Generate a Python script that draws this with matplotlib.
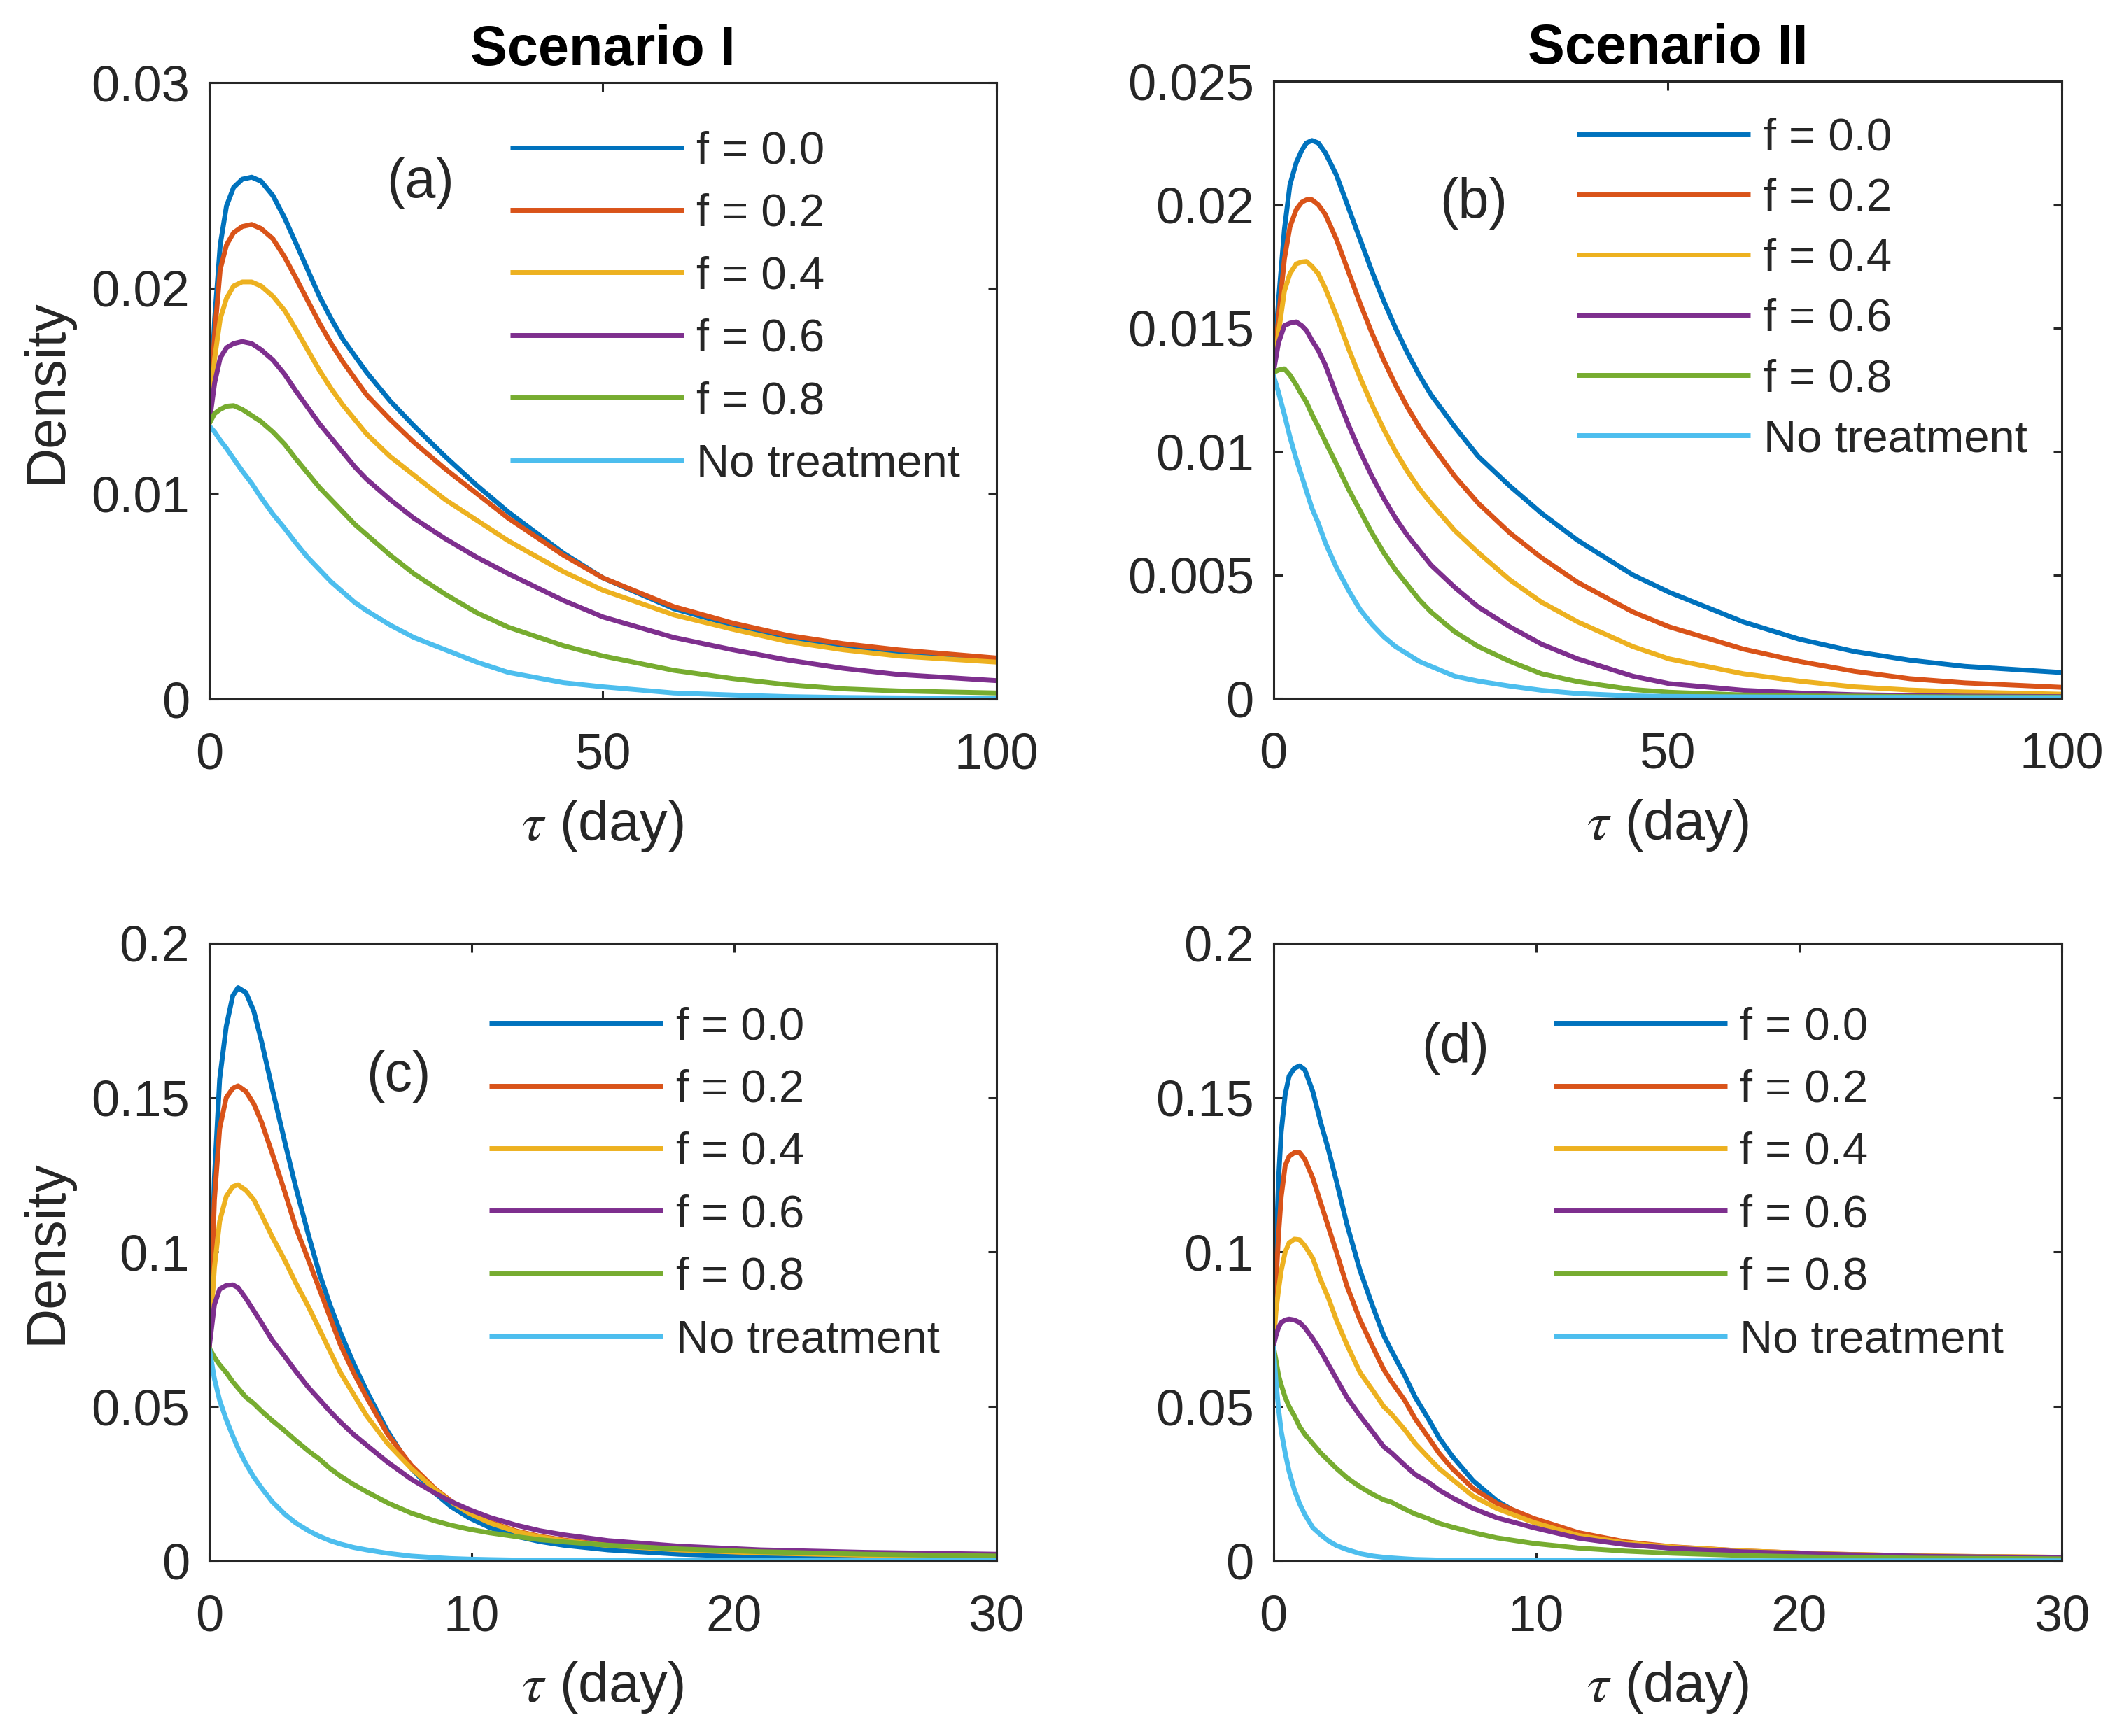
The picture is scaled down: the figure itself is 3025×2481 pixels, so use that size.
import matplotlib
matplotlib.use("Agg")
import matplotlib.pyplot as plt

plt.rcParams["font.family"] = ["Liberation Sans", "DejaVu Sans"]
plt.rcParams["mathtext.fontset"] = "stix"

# MATLAB default line colours, one per curve
colors = ["#0072BD", "#D95319", "#EDB120", "#7E2F8E", "#77AC30", "#4DBEEE"]
labels = ["f = 0.0", "f = 0.2", "f = 0.4", "f = 0.6", "f = 0.8", "No treatment"]

# ---------------- panel (a): Scenario I, long range ----------------
a_x = [0, 0.7, 1.4, 2.2, 3.1, 4.2, 5.4, 6.6, 8.1, 9.6, 11.0, 12.5, 14.0, 15.5, 17.0, 18.5,
       20, 23, 26, 30, 34, 38, 45, 50, 59, 66.5, 73.5, 80.5, 87.5, 100]
a_f00 = [0.0134, 0.0185, 0.0221, 0.0240, 0.0249, 0.0253, 0.0254, 0.0252, 0.0245, 0.0234,
         0.0222, 0.0209, 0.0196, 0.0185, 0.0175, 0.0167, 0.0159, 0.0145, 0.0133, 0.0118,
         0.0104, 0.0091, 0.0071, 0.0059, 0.0044, 0.0036, 0.0030, 0.0026, 0.0023, 0.0019]
a_f02 = [0.0134, 0.0178, 0.0209, 0.0221, 0.0227, 0.0230, 0.0231, 0.0229, 0.0224, 0.0215,
         0.0205, 0.0194, 0.0183, 0.0173, 0.0164, 0.0156, 0.0148, 0.0136, 0.0125, 0.0112,
         0.0100, 0.0088, 0.0070, 0.0059, 0.0045, 0.0037, 0.0031, 0.0027, 0.0024, 0.0020]
a_f04 = [0.0134, 0.0166, 0.0185, 0.0195, 0.0201, 0.0203, 0.0203, 0.0201, 0.0196, 0.0189,
         0.0180, 0.0170, 0.0160, 0.0151, 0.0143, 0.0136, 0.0129, 0.0118, 0.0109, 0.0097,
         0.0087, 0.0077, 0.0062, 0.0053, 0.0041, 0.0034, 0.0028, 0.0024, 0.0021, 0.0018]
a_f06 = [0.0134, 0.0154, 0.0166, 0.0171, 0.0173, 0.0174, 0.0173, 0.0170, 0.0165, 0.0158,
         0.0150, 0.0142, 0.0134, 0.0127, 0.0120, 0.0113, 0.0107, 0.0097, 0.0088, 0.0078,
         0.0069, 0.0061, 0.0048, 0.0040, 0.0030, 0.0024, 0.0019, 0.0015, 0.0012, 0.0009]
a_f08 = [0.0134, 0.0139, 0.0141, 0.01425, 0.01428, 0.0141, 0.0138, 0.0135, 0.0130, 0.0124,
         0.0117, 0.0110, 0.0103, 0.0097, 0.0091, 0.0085, 0.0080, 0.0070, 0.0061, 0.0051,
         0.0042, 0.0035, 0.0026, 0.0021, 0.0014, 0.0010, 0.0007, 0.0005, 0.0004, 0.0003]
a_none = [0.0133, 0.0130, 0.0126, 0.0122, 0.0117, 0.0111, 0.0105, 0.0098, 0.0090, 0.0083,
          0.0076, 0.0069, 0.0063, 0.0057, 0.0052, 0.0047, 0.0043, 0.0036, 0.0030, 0.0024,
          0.0018, 0.0013, 0.0008, 0.0006, 0.0003, 0.0002, 0.00012, 0.00008, 0.00006, 0.00004]

# ---------------- panel (b): Scenario II, long range ----------------
b_x = [0, 0.65, 1.4, 2.1, 2.9, 3.6, 4.2, 4.9, 5.7, 6.6, 8.0, 9.5, 11.0, 12.5, 14.0, 15.5,
       17.0, 18.5, 20, 23, 26, 30, 34, 38.6, 45.6, 50.2, 59.6, 66.7, 73.7, 80.7, 87.7, 100]
b_f00 = [0.0132, 0.0161, 0.0190, 0.0208, 0.0217, 0.0222, 0.0225, 0.0226, 0.0225, 0.0221,
         0.0212, 0.0199, 0.0186, 0.0173, 0.0161, 0.0150, 0.0140, 0.0131, 0.0123, 0.0110,
         0.0098, 0.0086, 0.0075, 0.0064, 0.0050, 0.0043, 0.0031, 0.0024, 0.0019, 0.00155,
         0.0013, 0.00105]
b_f02 = [0.0132, 0.0154, 0.0178, 0.0191, 0.0198, 0.0201, 0.0202, 0.0202, 0.0200, 0.0196,
         0.0186, 0.0173, 0.0160, 0.0148, 0.0137, 0.0127, 0.0118, 0.0110, 0.0103, 0.0090,
         0.0079, 0.0067, 0.0057, 0.0047, 0.0035, 0.0029, 0.0020, 0.0015, 0.0011, 0.0008,
         0.00063, 0.00045]
b_f04 = [0.0132, 0.0148, 0.0165, 0.0172, 0.0176, 0.01768, 0.0177, 0.0175, 0.0172, 0.0166,
         0.0155, 0.0142, 0.0130, 0.0119, 0.0109, 0.0100, 0.0092, 0.0085, 0.0079, 0.0068,
         0.0059, 0.0048, 0.0039, 0.0031, 0.0021, 0.0016, 0.0010, 0.0007, 0.00047, 0.00034,
         0.00026, 0.00017]
b_f06 = [0.0132, 0.0144, 0.0151, 0.0152, 0.01525, 0.0151, 0.0149, 0.0145, 0.0141, 0.0135,
         0.0123, 0.0111, 0.0100, 0.0090, 0.0081, 0.0073, 0.0066, 0.0060, 0.0054, 0.0045,
         0.0037, 0.0029, 0.0022, 0.0016, 0.0009, 0.0006, 0.00033, 0.00022, 0.00015, 0.00012,
         0.00009, 0.00007]
b_f08 = [0.0132, 0.0133, 0.01335, 0.0131, 0.0127, 0.0123, 0.0120, 0.0115, 0.0110, 0.0104,
         0.0095, 0.0085, 0.0076, 0.0067, 0.0059, 0.0052, 0.0046, 0.0040, 0.0035, 0.0027,
         0.0021, 0.0015, 0.0010, 0.00068, 0.00036, 0.00025, 0.00014, 0.0001, 0.00009, 0.00007,
         0.00006, 0.00005]
b_none = [0.0131, 0.0124, 0.0115, 0.0106, 0.0097, 0.0090, 0.0084, 0.0077, 0.0071, 0.0063,
          0.0053, 0.0044, 0.0036, 0.0030, 0.0025, 0.0021, 0.0018, 0.0015, 0.0013, 0.0009,
          0.0007, 0.0005, 0.00033, 0.0002, 0.0001, 0.00008, 0.00006, 0.00005, 0.00004, 0.00004,
          0.00003, 0.00003]

# ---------------- panel (c): Scenario I, first 30 days ----------------
c_x = [0, 0.2, 0.4, 0.65, 0.9, 1.1, 1.4, 1.7, 2.0, 2.4, 2.9, 3.3, 3.8, 4.2, 4.6, 5.0, 5.5,
       6.0, 6.8, 7.7, 8.6, 9.2, 9.9, 10.7, 11.7, 12.6, 13.5, 15.2, 17.9, 21, 25, 30]
c_f00 = [0.069, 0.124, 0.156, 0.173, 0.183, 0.1856, 0.184, 0.178, 0.168, 0.153, 0.135, 0.121,
         0.105, 0.093, 0.083, 0.074, 0.064, 0.055, 0.042, 0.030, 0.022, 0.0177, 0.0140, 0.0108,
         0.0080, 0.0063, 0.0051, 0.0036, 0.0022, 0.0013, 0.0008, 0.0005]
c_f02 = [0.069, 0.117, 0.140, 0.150, 0.153, 0.1538, 0.152, 0.148, 0.142, 0.132, 0.119, 0.108,
         0.097, 0.088, 0.079, 0.070, 0.061, 0.053, 0.041, 0.031, 0.0235, 0.0195, 0.0158, 0.0126,
         0.0097, 0.0080, 0.0068, 0.0052, 0.0037, 0.0027, 0.0020, 0.0015]
c_f04 = [0.069, 0.095, 0.110, 0.118, 0.1212, 0.1218, 0.120, 0.117, 0.112, 0.105, 0.097, 0.090,
         0.082, 0.075, 0.068, 0.061, 0.054, 0.047, 0.038, 0.030, 0.0232, 0.0192, 0.0155, 0.0123,
         0.0095, 0.0078, 0.0066, 0.0050, 0.0036, 0.0026, 0.0019, 0.0014]
c_f06 = [0.069, 0.083, 0.088, 0.0892, 0.0894, 0.0885, 0.085, 0.081, 0.077, 0.0715, 0.066,
         0.0614, 0.056, 0.0523, 0.0485, 0.045, 0.041, 0.0375, 0.032, 0.0265, 0.022, 0.0193,
         0.0167, 0.0141, 0.0116, 0.0098, 0.0085, 0.0066, 0.0048, 0.0036, 0.0028, 0.0022]
c_f08 = [0.069, 0.066, 0.0635, 0.061, 0.058, 0.056, 0.053, 0.051, 0.0485, 0.0455, 0.042, 0.039,
         0.0355, 0.033, 0.030, 0.0275, 0.0248, 0.0224, 0.0188, 0.0155, 0.013, 0.0116, 0.0103,
         0.0091, 0.0079, 0.0069, 0.0062, 0.0051, 0.0039, 0.0030, 0.0022, 0.0016]
c_none = [0.069, 0.059, 0.052, 0.0458, 0.0405, 0.0365, 0.0315, 0.0272, 0.0236, 0.0192, 0.0150,
          0.0123, 0.0097, 0.0080, 0.0066, 0.0055, 0.0044, 0.0036, 0.0025, 0.0016, 0.0011,
          0.0008, 0.0006, 0.00045, 0.0003, 0.00022, 0.00018, 0.00012, 0.0001, 0.0001, 0.0001,
          0.0001]

# ---------------- panel (d): Scenario II, first 30 days ----------------
d_x = [0, 0.1, 0.2, 0.3, 0.45, 0.6, 0.8, 1.0, 1.2, 1.5, 1.8, 2.1, 2.4, 2.8, 3.3, 3.8, 4.2,
       4.5, 5.0, 5.4, 5.9, 6.3, 6.8, 7.6, 8.5, 9.9, 11.6, 13.4, 15.2, 17.8, 21, 25, 30]
d_f00 = [0.0695, 0.100, 0.124, 0.139, 0.151, 0.157, 0.1595, 0.1603, 0.159, 0.152, 0.142,
         0.133, 0.123, 0.109, 0.094, 0.082, 0.073, 0.068, 0.060, 0.053, 0.046, 0.040, 0.034,
         0.026, 0.0195, 0.0125, 0.008, 0.0055, 0.0041, 0.0029, 0.0020, 0.0014, 0.0010]
d_f02 = [0.0695, 0.090, 0.106, 0.118, 0.128, 0.131, 0.1322, 0.1322, 0.130, 0.124, 0.116,
         0.108, 0.100, 0.089, 0.078, 0.069, 0.062, 0.058, 0.052, 0.046, 0.040, 0.035, 0.030,
         0.0235, 0.0187, 0.0138, 0.0092, 0.0062, 0.0046, 0.0033, 0.0023, 0.0016, 0.0012]
d_f04 = [0.0695, 0.081, 0.088, 0.094, 0.100, 0.1030, 0.1042, 0.1040, 0.102, 0.098, 0.091,
         0.085, 0.078, 0.070, 0.061, 0.055, 0.050, 0.0475, 0.0425, 0.038, 0.0335, 0.030,
         0.0265, 0.021, 0.017, 0.0125, 0.0083, 0.0058, 0.0045, 0.0033, 0.0023, 0.0016, 0.0012]
d_f06 = [0.0695, 0.073, 0.0757, 0.0772, 0.078, 0.0783, 0.0780, 0.0772, 0.0755, 0.072, 0.068,
         0.0635, 0.059, 0.053, 0.047, 0.0415, 0.037, 0.035, 0.031, 0.028, 0.0255, 0.023,
         0.0205, 0.017, 0.014, 0.0108, 0.0074, 0.0053, 0.0041, 0.0030, 0.0022, 0.0015, 0.0011]
d_f08 = [0.0695, 0.065, 0.060, 0.057, 0.053, 0.050, 0.047, 0.0435, 0.041, 0.038, 0.035,
         0.0325, 0.030, 0.027, 0.024, 0.0215, 0.0198, 0.019, 0.0168, 0.0152, 0.0137, 0.0122,
         0.011, 0.0092, 0.0075, 0.0057, 0.0042, 0.0032, 0.0025, 0.0018, 0.0012, 0.0009, 0.0007]
d_none = [0.0695, 0.058, 0.049, 0.042, 0.035, 0.029, 0.023, 0.0185, 0.015, 0.0108, 0.0085,
          0.0065, 0.0050, 0.0037, 0.0024, 0.0016, 0.0012, 0.0010, 0.0007, 0.0005, 0.0004,
          0.0003, 0.0002, 0.0001, 0.0001, 0.0001, 0.0001, 0.0001, 0.00005, 0.00005, 0.00005,
          0.00005, 0.00005]

# tick positions and labels
long_xticks = [0, 50, 100]
long_xticklabels = ["0", "50", "100"]
short_xticks = [0, 10, 20, 30]
short_xticklabels = ["0", "10", "20", "30"]
a_yticks = [0, 0.01, 0.02, 0.03]
a_yticklabels = ["0", "0.01", "0.02", "0.03"]
b_yticks = [0, 0.005, 0.01, 0.015, 0.02, 0.025]
b_yticklabels = ["0", "0.005", "0.01", "0.015", "0.02", "0.025"]
cd_yticks = [0, 0.05, 0.1, 0.15, 0.2]
cd_yticklabels = ["0", "0.05", "0.1", "0.15", "0.2"]

INK = "#262626"

fig = plt.figure(figsize=(30.25, 24.81), dpi=100)


def draw_panel(rect, x, curves, xlim, xticks, xticklabels, ylim, yticks, yticklabels,
               tag, tag_xy, leg_xy, leg_spacing, ylabel=None, title=None, xlabel_y=-0.206):
    ax = fig.add_axes(rect)
    for y, c, lab in zip(curves, colors, labels):
        ax.plot(x, y, color=c, lw=5, label=lab, solid_capstyle="butt")
    ax.set_xlim(xlim)
    ax.set_ylim(ylim)
    ax.set_xticks(xticks)
    ax.set_xticklabels(xticklabels)
    ax.set_yticks(yticks)
    ax.set_yticklabels(yticklabels)
    ax.tick_params(direction="in", top=True, right=True, length=9, width=2.2,
                   labelsize=52, colors=INK)
    ax.tick_params(axis="x", pad=34)
    ax.tick_params(axis="y", pad=20)
    for sp in ax.spines.values():
        sp.set_linewidth(2.2)
        sp.set_color(INK)
    ax.set_xlabel(r"$\tau$ (day)", fontsize=57, color=INK, va="center")
    ax.xaxis.set_label_coords(0.5, xlabel_y)
    if ylabel:
        ax.set_ylabel(ylabel, fontsize=57, color=INK, va="center")
        ax.yaxis.set_label_coords(-0.206, 0.5)
    if title:
        ax.set_title(title, fontsize=57, fontweight="bold", pad=18)
    ax.text(tag_xy[0], tag_xy[1], tag, transform=ax.transAxes, fontsize=57,
            ha="center", va="center", color=INK)
    ax.legend(loc="upper left", bbox_to_anchor=leg_xy, frameon=False, fontsize=47,
              handlelength=3.8, handletextpad=0.28, labelspacing=leg_spacing,
              borderpad=0, borderaxespad=0, labelcolor=INK)
    return ax


draw_panel([0.0988, 0.5973, 0.3719, 0.3551], a_x,
           [a_f00, a_f02, a_f04, a_f06, a_f08, a_none],
           (0, 100), long_xticks, long_xticklabels,
           (0, 0.03), a_yticks, a_yticklabels,
           "(a)", (0.268, 0.837), (0.382, 0.9223), 0.45,
           ylabel="Density", title="Scenario I")

draw_panel([0.6015, 0.5977, 0.3724, 0.3555], b_x,
           [b_f00, b_f02, b_f04, b_f06, b_f08, b_none],
           (0, 100), long_xticks, long_xticklabels,
           (0, 0.025), b_yticks, b_yticklabels,
           "(b)", (0.254, 0.8025), (0.385, 0.9416), 0.40,
           title="Scenario II")

draw_panel([0.0988, 0.1008, 0.3719, 0.3559], c_x,
           [c_f00, c_f02, c_f04, c_f06, c_f08, c_none],
           (0, 30), short_xticks, short_xticklabels,
           (0, 0.2), cd_yticks, cd_yticklabels,
           "(c)", (0.240, 0.7837), (0.356, 0.8978), 0.45,
           ylabel="Density", xlabel_y=-0.204)

draw_panel([0.6015, 0.1008, 0.3724, 0.3559], d_x,
           [d_f00, d_f02, d_f04, d_f06, d_f08, d_none],
           (0, 30), short_xticks, short_xticklabels,
           (0, 0.2), cd_yticks, cd_yticklabels,
           "(d)", (0.231, 0.8293), (0.3556, 0.8978), 0.45,
           xlabel_y=-0.204)

fig.savefig("out.png", dpi=100, facecolor="white")
